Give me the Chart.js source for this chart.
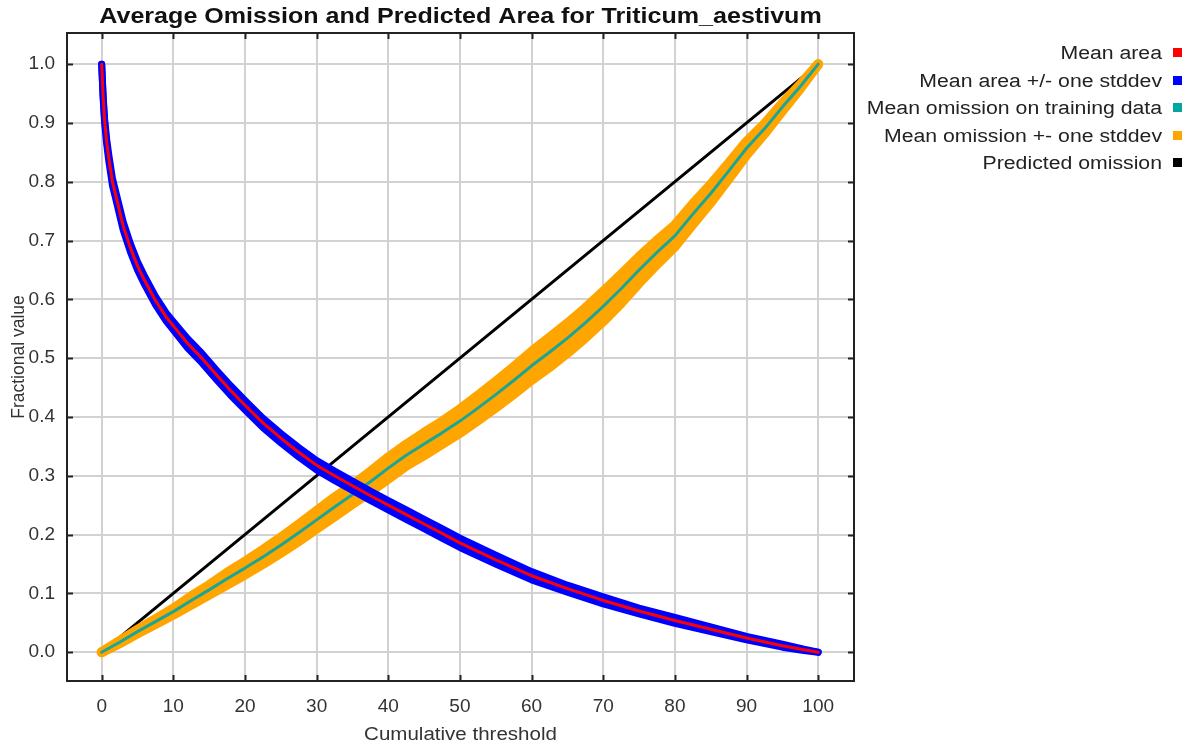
<!DOCTYPE html>
<html><head><meta charset="utf-8">
<script src="https://cdn.jsdelivr.net/npm/chart.js@4.4.1/dist/chart.umd.min.js"></script>
<style>html,body{margin:0;padding:0;background:#fff;overflow:hidden}</style>
</head><body>
<canvas id="c" width="1189" height="748" style="display:block;width:1189px;height:748px"></canvas>
<script>
const chartTitle = 'Average Omission and Predicted Area for Triticum_aestivum';
const xAxisTitle = 'Cumulative threshold';
const yAxisTitle = 'Fractional value';
const xTicks = [0, 10, 20, 30, 40, 50, 60, 70, 80, 90, 100];
const yTicks = [0.0, 0.1, 0.2, 0.3, 0.4, 0.5, 0.6, 0.7, 0.8, 0.9, 1.0];
const legendLabels = ['Mean area', 'Mean area +/- one stddev', 'Mean omission on training data', 'Mean omission +- one stddev', 'Predicted omission'];
const legendColors = ['#ff0000', '#0000ff', '#00a6a0', '#ffa500', '#000000'];

const areaX = [0, 0.2, 0.4, 0.7, 1, 1.5, 2, 3, 4, 5, 6, 7.5, 9, 10, 12, 14, 16, 18, 20, 22.5, 25, 27.5, 30, 32.5, 35, 37.5, 40, 42.5, 45, 47.5, 50, 55, 60, 65, 70, 75, 80, 85, 90, 95, 98, 100];
const meanArea = [1.0, 0.945, 0.905, 0.868, 0.84, 0.80, 0.775, 0.725, 0.688, 0.657, 0.632, 0.598, 0.57, 0.555, 0.525, 0.50, 0.472, 0.445, 0.42, 0.39, 0.364, 0.34, 0.318, 0.30, 0.283, 0.266, 0.25, 0.234, 0.218, 0.202, 0.186, 0.157, 0.13, 0.108, 0.088, 0.07, 0.054, 0.039, 0.024, 0.011, 0.004, 0.0];
const areaUpper = [1.0, 0.947, 0.908, 0.872, 0.845, 0.806, 0.781, 0.732, 0.695, 0.664, 0.639, 0.605, 0.577, 0.562, 0.533, 0.508, 0.480, 0.453, 0.428, 0.398, 0.372, 0.348, 0.326, 0.308, 0.291, 0.274, 0.258, 0.242, 0.226, 0.210, 0.194, 0.165, 0.137, 0.114, 0.094, 0.075, 0.059, 0.043, 0.027, 0.0135, 0.005, 0.0];
const areaLower = [1.0, 0.943, 0.902, 0.864, 0.835, 0.794, 0.769, 0.718, 0.681, 0.650, 0.625, 0.591, 0.563, 0.548, 0.517, 0.492, 0.464, 0.437, 0.412, 0.382, 0.356, 0.332, 0.310, 0.292, 0.275, 0.258, 0.242, 0.226, 0.210, 0.194, 0.178, 0.150, 0.123, 0.102, 0.082, 0.065, 0.049, 0.035, 0.021, 0.0085, 0.003, 0.0];

const omX = [0, 2.5, 5, 7.5, 10, 12.5, 15, 17.5, 20, 22.5, 25, 27.5, 30, 32.5, 35, 37.5, 40, 42.5, 45, 47.5, 50, 52.5, 55, 57.5, 60, 62.5, 65, 67.5, 70, 72.5, 75, 77.5, 80, 82.5, 85, 87.5, 90, 92.5, 95, 97.5, 100];
const meanOmission = [0, 0.017, 0.035, 0.052, 0.069, 0.088, 0.106, 0.125, 0.143, 0.162, 0.182, 0.203, 0.225, 0.247, 0.268, 0.29, 0.313, 0.335, 0.354, 0.373, 0.393, 0.415, 0.438, 0.462, 0.487, 0.51, 0.534, 0.56, 0.588, 0.618, 0.65, 0.68, 0.708, 0.745, 0.78, 0.818, 0.857, 0.89, 0.927, 0.962, 1.0];
const omissionUpper = [0, 0.019, 0.038, 0.056, 0.074, 0.095, 0.114, 0.135, 0.154, 0.174, 0.195, 0.217, 0.240, 0.263, 0.284, 0.307, 0.331, 0.353, 0.373, 0.392, 0.413, 0.436, 0.460, 0.485, 0.511, 0.535, 0.559, 0.585, 0.613, 0.642, 0.672, 0.700, 0.726, 0.762, 0.795, 0.831, 0.868, 0.898, 0.933, 0.965, 1.0];
const omissionLower = [0, 0.015, 0.032, 0.048, 0.064, 0.081, 0.098, 0.115, 0.132, 0.150, 0.169, 0.189, 0.210, 0.231, 0.252, 0.273, 0.295, 0.317, 0.335, 0.354, 0.373, 0.394, 0.416, 0.439, 0.463, 0.485, 0.509, 0.535, 0.563, 0.594, 0.628, 0.660, 0.690, 0.728, 0.765, 0.805, 0.846, 0.882, 0.921, 0.959, 1.0];

const predX = [0, 100];
const predOmission = [0, 1];

const pts = (xs, ys) => xs.map((x, i) => ({x: x, y: ys[i]}));
const FONT = '"Liberation Sans", Arial, sans-serif';

const decor = {
  id: 'decor',
  beforeDraw(chart) {
    const ctx = chart.ctx;
    ctx.save();
    ctx.fillStyle = '#ffffff';
    ctx.fillRect(0, 0, chart.width, chart.height);
    ctx.restore();
  },
  afterDraw(chart) {
    const {ctx, chartArea: a} = chart;
    const xs = chart.scales.x, ys = chart.scales.y;
    ctx.save();
    ctx.strokeStyle = '#222';
    ctx.lineWidth = 2;
    ctx.strokeRect(a.left, a.top, a.right - a.left, a.bottom - a.top);
    ctx.beginPath();
    xTicks.forEach(v => {
      const p = Math.round(xs.getPixelForValue(v)) + 0.5;
      ctx.moveTo(p, a.bottom); ctx.lineTo(p, a.bottom - 6);
      ctx.moveTo(p, a.top); ctx.lineTo(p, a.top + 6);
    });
    yTicks.forEach(v => {
      const p = Math.round(ys.getPixelForValue(v)) + 0.5;
      ctx.moveTo(a.left, p); ctx.lineTo(a.left + 6, p);
      ctx.moveTo(a.right, p); ctx.lineTo(a.right - 6, p);
    });
    ctx.stroke();

    const cx = (a.left + a.right) / 2;
    ctx.fillStyle = '#111';
    ctx.font = 'bold 22px ' + FONT;
    ctx.textAlign = 'center';
    ctx.textBaseline = 'alphabetic';
    ctx.save(); ctx.translate(cx, 23); ctx.scale(1.14, 1); ctx.fillText(chartTitle, 0, 0); ctx.restore();

    ctx.fillStyle = '#333';
    ctx.font = '18px ' + FONT;
    ctx.save(); ctx.translate(cx, 740); ctx.scale(1.14, 1); ctx.fillText(xAxisTitle, 0, 0); ctx.restore();
    ctx.font = '17.5px ' + FONT;
    ctx.save(); ctx.translate(24, (a.top + a.bottom) / 2); ctx.rotate(-Math.PI / 2); ctx.fillText(yAxisTitle, 0, 0); ctx.restore();

    ctx.font = '18px ' + FONT;
    ctx.textAlign = 'right';
    legendLabels.forEach((lab, i) => {
      const base = 59 + i * 27.5;
      ctx.fillStyle = '#222';
      ctx.save(); ctx.translate(1162, base); ctx.scale(1.18, 1); ctx.fillText(lab, 0, 0); ctx.restore();
      ctx.fillStyle = legendColors[i];
      ctx.fillRect(1173, Math.round(base - 11), 9, 9);
    });
    ctx.restore();
  }
};

new Chart(document.getElementById('c'), {
  type: 'line',
  data: {
    datasets: [
      {label: legendLabels[0], data: pts(areaX, meanArea), borderColor: '#ff0000', borderWidth: 3, order: 0},
      {label: 'upper', data: pts(areaX, areaUpper), borderColor: '#0000ff', borderWidth: 7, order: 2},
      {label: 'lower', data: pts(areaX, areaLower), borderColor: '#0000ff', borderWidth: 7, backgroundColor: '#0000ff', fill: 1, order: 1},
      {label: legendLabels[2], data: pts(omX, meanOmission), borderColor: '#1aa596', borderWidth: 3, order: 3},
      {label: 'omUpper', data: pts(omX, omissionUpper), borderColor: '#ffa500', borderWidth: 10, order: 5},
      {label: 'omLower', data: pts(omX, omissionLower), borderColor: '#ffa500', borderWidth: 10, backgroundColor: '#ffa500', fill: 4, order: 4},
      {label: legendLabels[4], data: pts(predX, predOmission), borderColor: '#000000', borderWidth: 3, order: 6}
    ]
  },
  options: {
    responsive: false,
    animation: false,
    devicePixelRatio: 1,
    layout: {padding: {top: 33, right: 335, left: 0, bottom: 0}},
    elements: {
      point: {radius: 0, hoverRadius: 0},
      line: {tension: 0, fill: false, borderJoinStyle: 'round', borderCapStyle: 'round'}
    },
    plugins: {legend: {display: false}, title: {display: false}, tooltip: {enabled: false}},
    events: [],
    scales: {
      x: {
        type: 'linear', min: -4.84, max: 105,
        afterBuildTicks: s => { s.ticks = xTicks.map(v => ({value: v})); },
        afterFit: s => { s.height = 67; },
        grid: {color: '#d2d2d2', lineWidth: 2, drawTicks: false},
        border: {display: false},
        ticks: {padding: 14, color: '#333', font: {family: FONT, size: 19}, callback: v => String(v)}
      },
      y: {
        type: 'linear', min: -0.049, max: 1.053,
        afterBuildTicks: s => { s.ticks = yTicks.map(v => ({value: v})); },
        afterFit: s => { s.width = 67; },
        grid: {color: '#d2d2d2', lineWidth: 2, drawTicks: false},
        border: {display: false},
        ticks: {padding: 12, color: '#333', font: {family: FONT, size: 19}, callback: v => Number(v).toFixed(1)}
      }
    }
  },
  plugins: [decor]
});
</script>
</body></html>
